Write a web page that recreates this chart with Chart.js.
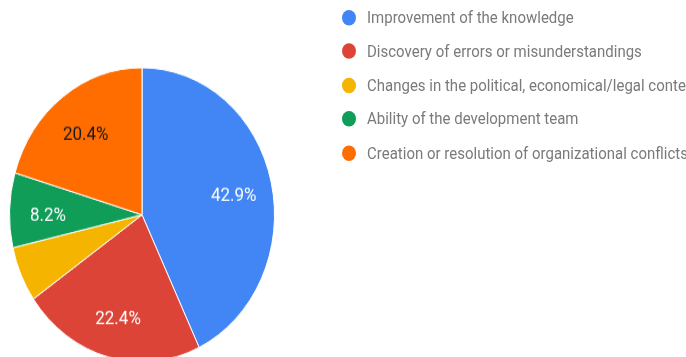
<!DOCTYPE html>
<html>
<head>
<meta charset="utf-8">
<title>Reasons for requirement changes</title>
<style>
    html, body {
        margin: 0;
        padding: 0;
        width: 686px;
        height: 357px;
        overflow: hidden;
        background: #fff;
        font-family: Roboto, "Noto Sans", sans-serif;
    }
    /* the whole figure is drawn a bit taller than wide */
    .figure {
        position: absolute;
        left: 0;
        top: 0;
        width: 686px;
        height: 387px;
        transform: scaleY(1.11);
        transform-origin: 0 0;
    }
    .pie-box {
        position: absolute;
        left: 0;
        top: 0;
        width: 284px;
        height: 387px;
    }
    .legend {
        position: absolute;
        left: 342px;
        top: 0.5px;
        margin: 0;
        padding: 0;
        list-style: none;
        white-space: nowrap;
    }
    .legend li {
        height: 30.6px;
        line-height: 30.6px;
        font-size: 15px;
        color: #7a7a7a;
    }
    .legend .dot {
        display: inline-block;
        width: 14px;
        height: 14px;
        border-radius: 50%;
        margin-right: 11px;
        vertical-align: -2px;
    }
</style>
</head>
<body>
<div class="figure">
    <div class="pie-box">
        <canvas id="pieChart" width="284" height="387"></canvas>
    </div>
    <ul class="legend" id="legend"></ul>
</div>

<script src="https://cdn.jsdelivr.net/npm/chart.js"></script>
<script>
// Share of answers per reason (%)
const reasons = [
    'Improvement of the knowledge',
    'Discovery of errors or misunderstandings',
    'Changes in the political, economical/legal context',
    'Ability of the development team',
    'Creation or resolution of organizational conflicts'
];
const shares = [42.9, 22.4, 6.1, 8.2, 20.4];

const sliceColors = ['#4285f4', '#db4437', '#f4b400', '#0f9d58', '#ff6d00'];
const labelColors = ['#ffffff', '#ffffff', '#ffffff', '#ffffff', '#1a1a1a'];

// Percent text inside each slice (small slices get none)
const sliceLabels = {
    id: 'sliceLabels',
    afterDatasetsDraw(chart) {
        const ctx = chart.ctx;
        const meta = chart.getDatasetMeta(0);
        ctx.save();
        ctx.font = '17px Roboto';
        ctx.textAlign = 'center';
        ctx.textBaseline = 'alphabetic';
        meta.data.forEach((arc, i) => {
            const value = shares[i];
            if (value < 7) return;
            const p = arc.getProps(['x', 'y', 'startAngle', 'endAngle', 'outerRadius'], true);
            const mid = (p.startAngle + p.endAngle) / 2;
            const r = p.outerRadius * 0.71;
            ctx.fillStyle = labelColors[i];
            // baseline sits a little below the anchor point
            ctx.fillText(value.toFixed(1) + '%', p.x + Math.cos(mid) * r, p.y + Math.sin(mid) * r + 8);
        });
        ctx.restore();
    }
};

const ctx = document.getElementById('pieChart').getContext('2d');
const chart = new Chart(ctx, {
    type: 'pie',
    data: {
        labels: reasons,
        datasets: [{
            data: shares,
            backgroundColor: sliceColors,
            borderColor: '#ffffff',
            borderWidth: 1
        }]
    },
    options: {
        responsive: false,
        animation: false,
        layout: {
            padding: { left: 9, right: 9, top: 0, bottom: 0 }
        },
        plugins: {
            legend: { display: false },
            tooltip: { enabled: false }
        }
    },
    plugins: [sliceLabels]
});

// Legend list on the right
function buildLegend() {
    const list = document.getElementById('legend');
    list.innerHTML = reasons.map((name, i) => `
        <li><span class="dot" style="background:${sliceColors[i]}"></span>${name}</li>
    `).join('');
}

buildLegend();
</script>
</body>
</html>
